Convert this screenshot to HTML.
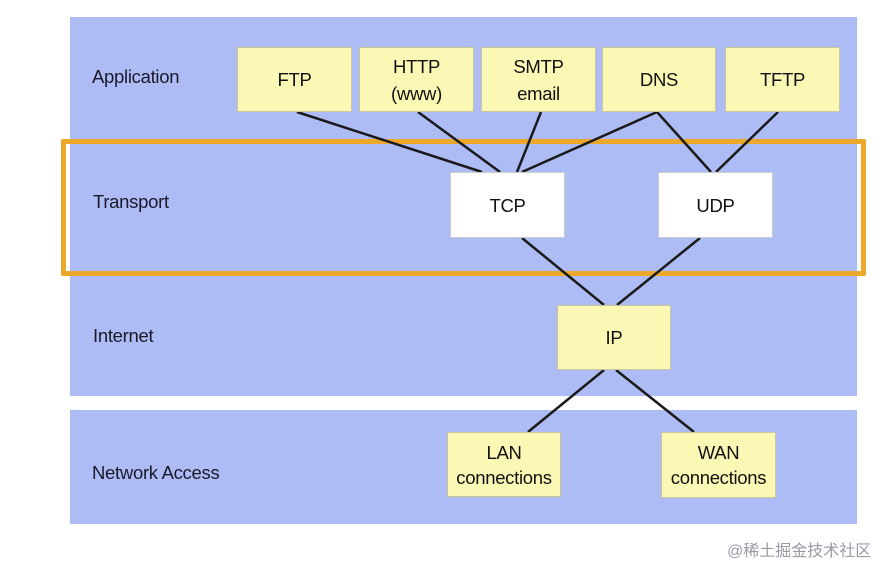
<!DOCTYPE html>
<html><head><meta charset="utf-8"><style>
body{margin:0;width:893px;height:563px;background:#fff;position:relative;overflow:hidden;font-family:"Liberation Sans",Arial,sans-serif;}
.a{position:absolute}
.band{position:absolute;background:#aebcf6}
.box{position:absolute;background:#fbf7b4;border:1px solid #c9c79a;box-sizing:border-box;display:flex;align-items:center;justify-content:center;text-align:center;font-size:18.5px;line-height:27px;color:#111;letter-spacing:-0.3px}
.lbl{position:absolute;font-size:18.5px;color:#1a1a2a;letter-spacing:-0.3px}
</style></head><body>
<div class="band" style="left:70px;top:17px;width:787px;height:379px"></div>
<div class="band" style="left:70px;top:410px;width:787px;height:114px"></div>
<div class="a" style="left:61px;top:139px;width:795px;height:127px;border:5px solid #eba82a;border-radius:2px"></div>
<svg class="a" style="left:0;top:0" width="893" height="563">
<g stroke="#1a1a1a" stroke-width="2.5" fill="none">
<line x1="297" y1="112" x2="482" y2="172"/>
<line x1="418" y1="112" x2="500" y2="172"/>
<line x1="541" y1="112" x2="517" y2="172"/>
<line x1="657" y1="112" x2="522" y2="172"/>
<line x1="657" y1="112" x2="711" y2="172"/>
<line x1="778" y1="112" x2="716" y2="172"/>
<line x1="522" y1="238" x2="604" y2="305"/>
<line x1="700" y1="238" x2="617" y2="305"/>
<line x1="604" y1="370" x2="528" y2="432"/>
<line x1="616" y1="370" x2="694" y2="432"/>
</g></svg>
<div class="lbl" style="left:92px;top:66px">Application</div>
<div class="lbl" style="left:93px;top:191px">Transport</div>
<div class="lbl" style="left:93px;top:325px">Internet</div>
<div class="lbl" style="left:92px;top:462px">Network Access</div>
<div class="box" style="left:237px;top:47px;width:115px;height:65px">FTP</div>
<div class="box" style="left:359px;top:47px;width:115px;height:65px">HTTP<br>(www)</div>
<div class="box" style="left:481px;top:47px;width:115px;height:65px">SMTP<br>email</div>
<div class="box" style="left:602px;top:47px;width:114px;height:65px">DNS</div>
<div class="box" style="left:725px;top:47px;width:115px;height:65px">TFTP</div>
<div class="box" style="left:450px;top:172px;width:115px;height:66px;background:#fff;border-color:#ccc">TCP</div>
<div class="box" style="left:658px;top:172px;width:115px;height:66px;background:#fff;border-color:#ccc">UDP</div>
<div class="box" style="left:557px;top:305px;width:114px;height:65px">IP</div>
<div class="box" style="left:447px;top:432px;width:114px;height:65px;line-height:25px">LAN<br>connections</div>
<div class="box" style="left:661px;top:432px;width:115px;height:66px;line-height:25px">WAN<br>connections</div>
<div class="a" style="left:727px;top:537px;font-size:16px;color:#9a9aa6;font-family:'Liberation Sans','Noto Sans CJK SC',sans-serif">@稀土掘金技术社区</div>
</body></html>
